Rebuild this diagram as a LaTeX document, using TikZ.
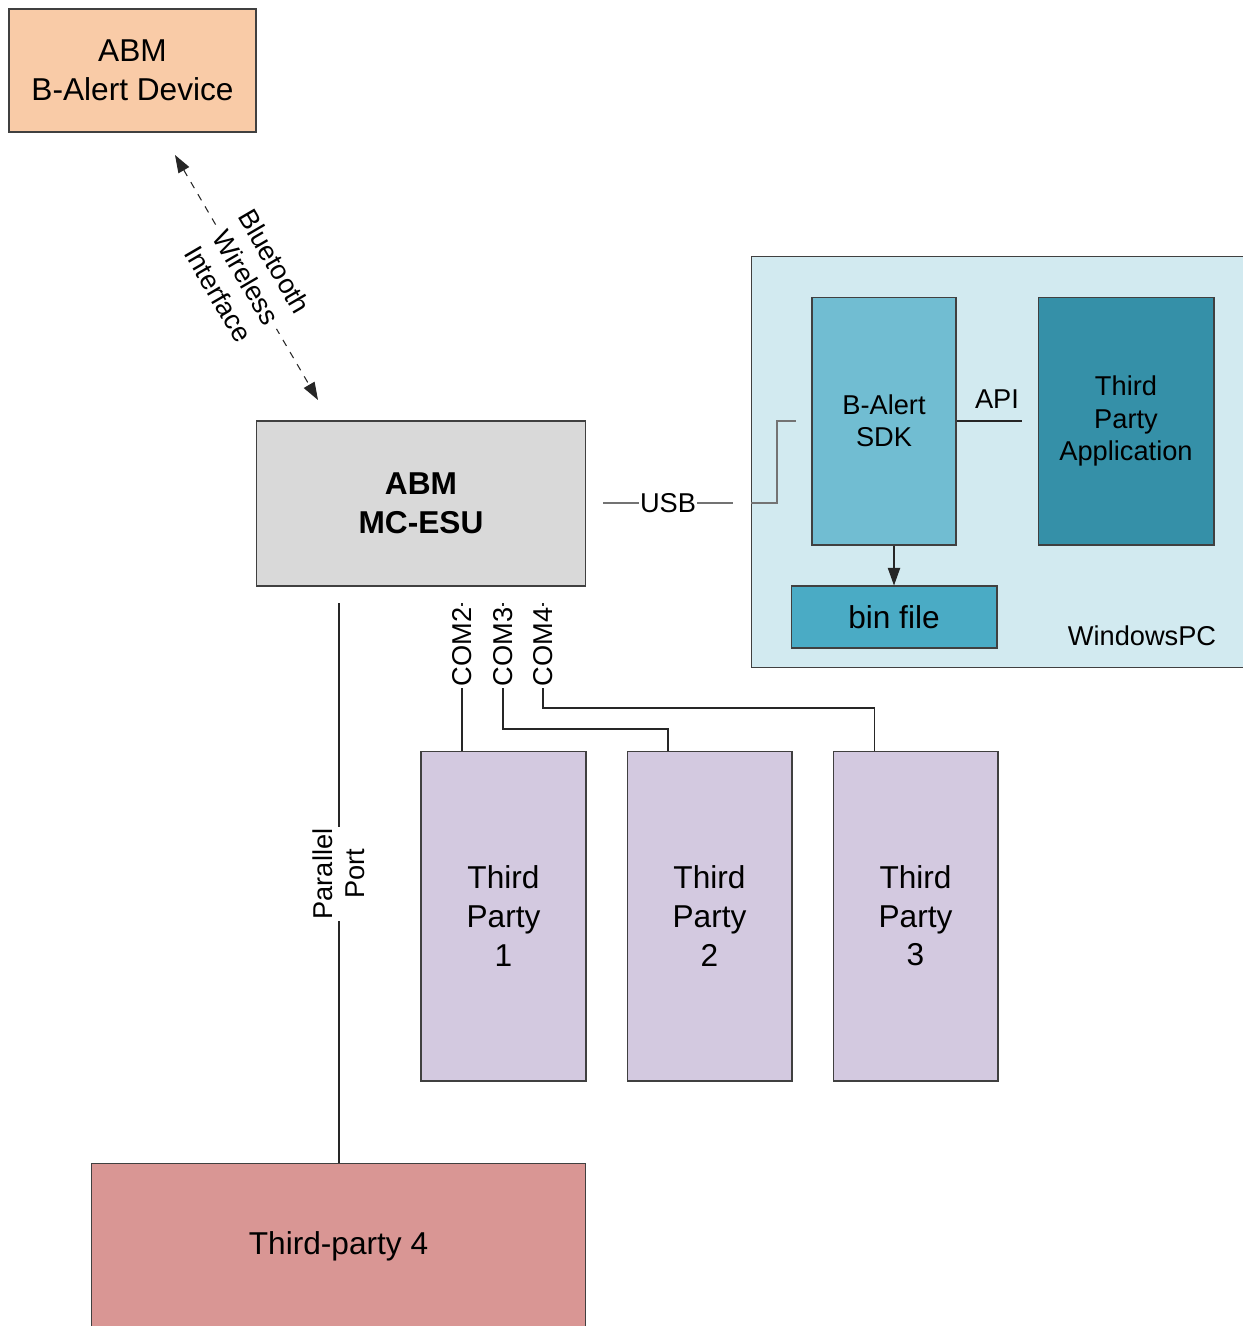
\documentclass[tikz,border=0pt]{standalone}
\usepackage{fontspec}
\setmainfont{Liberation Sans}
\usepackage{xcolor}
\usetikzlibrary{arrows.meta,positioning,calc}
\definecolor{devfill}{HTML}{F9CBA7}
\definecolor{esufill}{HTML}{D9D9D9}
\definecolor{pcfill}{HTML}{D2EAF0}
\definecolor{sdkfill}{HTML}{71BDD2}
\definecolor{appfill}{HTML}{3590A8}
\definecolor{binfill}{HTML}{4AABC5}
\definecolor{tpfill}{HTML}{D3C9E0}
\definecolor{tpfourfill}{HTML}{D99694}
\newcommand{\bigtxt}{\fontsize{18}{22}\selectfont}
\newcommand{\smalltxt}{\fontsize{15.5}{18.5}\selectfont}
\tikzset{
  blk/.style={draw=black!75, line width=0.6pt, inner sep=0pt, align=center, font=\bigtxt},
  dev/.style={blk, fill=devfill, minimum width=4.94cm, minimum height=2.46cm},
  esu/.style={blk, fill=esufill, minimum width=6.6cm, minimum height=3.3cm},
  pcbox/.style={blk, fill=pcfill, minimum width=10.2cm, minimum height=8.24cm},
  sdk/.style={blk, fill=sdkfill, font=\smalltxt, minimum width=2.88cm, minimum height=4.96cm},
  app/.style={blk, fill=appfill, font=\smalltxt, minimum width=3.52cm, minimum height=4.96cm},
  bin/.style={blk, fill=binfill, minimum width=4.12cm, minimum height=1.24cm},
  tp/.style={blk, fill=tpfill, minimum width=3.3cm, minimum height=6.6cm},
  tpfour/.style={blk, fill=tpfourfill, minimum width=9.9cm, minimum height=3.34cm},
  lbl/.style={fill=white, inner sep=1pt, align=center, font=\smalltxt},
  wire/.style={draw=black!85, line width=0.6pt},
  usbw/.style={draw=black!55, line width=0.8pt},
  fl/.style={-{Triangle[length=10pt,width=7pt]}},
  bt/.style={wire, dash pattern=on 4pt off 4pt, {Triangle[length=10pt,width=7pt]}-{Triangle[length=10pt,width=7pt]}},
}

\begin{document}
\begin{tikzpicture}[x=0.02cm, y=-0.02cm]
\useasboundingbox (0,0) rectangle (1243,1326);
% boxes
\node[dev] (dev) at (132.5,70.5) {ABM\\B-Alert Device};
\node[esu] (esu) at (421,503.5) {\textbf{ABM}\\\textbf{MC-ESU}};
\node[pcbox] (pc) at (1006,462) {};
\node[sdk] (sdk) at (884,421) {B-Alert\\SDK};
\node[app, right=1.62cm of sdk] (app) {Third\\Party\\Application};
\node[bin] (bin) at (894,617) {bin file};
\node[font=\smalltxt] (pclbl) at (1142,636) {WindowsPC};
\node[tp] (tp1) at (503.5,916) {Third\\Party\\1};
\node[tp, right=0.8cm of tp1] (tp2) {Third\\Party\\2};
\node[tp, right=0.8cm of tp2] (tp3) {Third\\Party\\3};
\node[tpfour] (tp4) at (338.5,1246.5) {Third-party 4};
% free ends
\coordinate (bt1) at (175,155);
\coordinate (bt2) at (318,400);
\coordinate (usb1) at (603,503);
\coordinate (usb2) at (733,503);
\coordinate (usbin) at (751,503);
\coordinate (sdkin) at (796,421);
\coordinate (apiend) at (1022,421);
\coordinate (c2) at (462,603);
\coordinate (c3) at (503,603);
\coordinate (c4) at (543,603);
\coordinate (pp) at (339,603);
% links
\draw[bt] (bt1) -- node[sloped, lbl] {Bluetooth\\Wireless\\Interface} (bt2);
\draw[usbw] (usb1) -- node[lbl, inner sep=0.5pt] {USB} (usb2);
\draw[usbw] (usbin) -- ++(26,0) |- (sdkin);
\draw[wire] (sdk.east) -- (apiend);
\node[font=\smalltxt] (api) at (997,399) {API};
\draw[wire, fl] (bin.north |- sdk.south) -- (bin.north);
\draw[wire] (c2) -- (c2 |- tp1.north);
\draw[wire] (c3) -- ++(0,126) -| ($(tp2.north west)!0.25!(tp2.north east)$);
\draw[wire] (c4) -- ++(0,105) -| ($(tp3.north west)!0.25!(tp3.north east)$);
\draw[wire] (pp) -- (pp |- tp4.north);
\node[lbl, rotate=90] (com2) at (462,647) {COM2};
\node[lbl, rotate=90] (com3) at (503,647) {COM3};
\node[lbl, rotate=90] (com4) at (543,647) {COM4};
\node[lbl, rotate=90] (ppl) at (339,874) {Parallel\\Port};
\end{tikzpicture}
\end{document}
